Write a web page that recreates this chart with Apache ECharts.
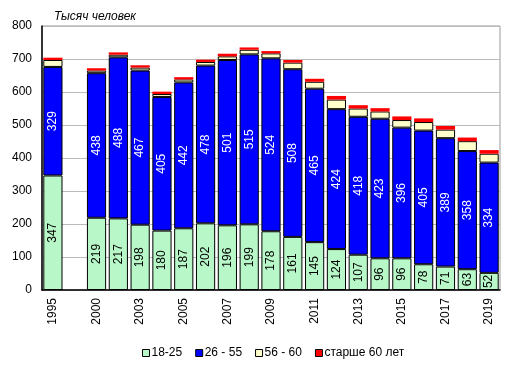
<!DOCTYPE html>
<html><head><meta charset="utf-8">
<script src="https://cdn.jsdelivr.net/npm/echarts@6/dist/echarts.min.js"></script>
<style>html,body{margin:0;padding:0;background:#fff}#c{width:514px;height:371px}</style>
</head><body><div id="c"></div>
<script>
const categories = ["1995","","2000","2002","2003","2004","2005","2006","2007","2008","2009","2010","2011","2012","2013","2014","2015","2016","2017","2018","2019"];
const age18_25 = [347,null,219,217,198,180,187,202,196,199,178,161,145,124,107,96,96,78,71,63,52];
const age26_55 = [329,null,438,488,467,405,442,478,501,515,524,508,465,424,418,423,396,405,389,358,334];
const age56_60 = [21,null,8,8,9,9,9,11,11,14,15,20,21,29,25,22,23,26,26,30,27];
const age60plus = [7,null,7,7,7,7,7,7,8,7,7,8,9,11,10,10,11,11,11,11,11];
const yTicks = [0,100,200,300,400,500,600,700,800];
const seriesNames = ["18-25","26 - 55","56 - 60","старше 60 лет"];

const font = "Liberation Sans, Arial, sans-serif";
const chart = echarts.init(document.getElementById('c'), null, {renderer:'canvas'});
function mk(name, data, color, labelColor, showLabel, bw){
  return {
    name, type:'bar', stack:'a', data, barCategoryGap:'12%',
    itemStyle:{color, borderColor:'#000', borderWidth:bw},
    label:{show:showLabel, position:'inside', rotate:90, color:labelColor, fontSize:12, fontFamily:font},
    emphasis:{disabled:true}
  };
}
chart.setOption({
  animation:false,
  title:{text:'Тысяч человек', left:49, top:6, textStyle:{fontStyle:'italic', fontWeight:'normal', fontSize:12, fontFamily:font, color:'#000'}},
  grid:{left:42, right:14, top:26, bottom:81, show:true, borderColor:'#999', borderWidth:1},
  legend:{bottom:7, left:137, itemWidth:7, itemHeight:7, itemGap:13, icon:'rect',
    textStyle:{fontSize:12, fontFamily:font, color:'#000', padding:[0,0,0,-3]},
    data:seriesNames.map(n=>({name:n, itemStyle:{borderColor:'#000', borderWidth:1}}))},
  xAxis:{type:'category', data:categories,
    axisLine:{lineStyle:{color:'#000', width:1.5}}, axisTick:{show:false},
    axisLabel:{interval:1, rotate:90, margin:8, fontSize:12, fontFamily:font, color:'#000'}},
  yAxis:{type:'value', min:0, max:800, interval:100,
    axisLine:{show:true, lineStyle:{color:'#000', width:1.5}}, axisTick:{show:false},
    splitLine:{lineStyle:{color:'#bbb'}},
    axisLabel:{margin:10, fontSize:12, fontFamily:font, color:'#000',
      formatter:v=>yTicks.includes(v)?String(v):''}},
  series:[
    mk(seriesNames[0], age18_25, '#b8f8c8', '#000', true, 1),
    mk(seriesNames[1], age26_55, '#0000ff', '#fff', true, 1),
    mk(seriesNames[2], age56_60, '#ffffcc', '#000', false, 1),
    mk(seriesNames[3], age60plus, '#ff0000', '#000', false, 0)
  ]
});
</script></body></html>
